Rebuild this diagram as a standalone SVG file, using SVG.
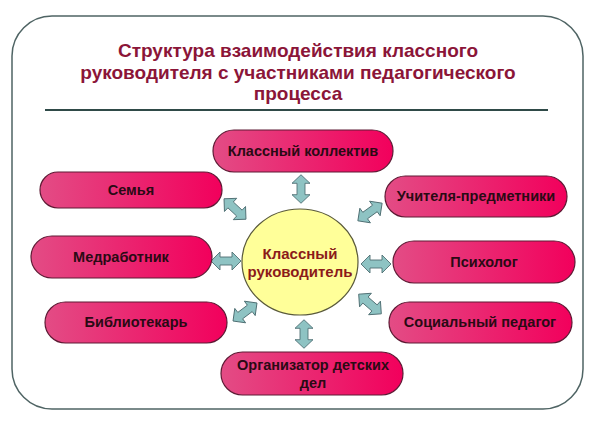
<svg xmlns="http://www.w3.org/2000/svg" xmlns:xlink="http://www.w3.org/1999/xlink" width="592" height="444" viewBox="0 0 592 444">
<style>
.title{font-family:"Liberation Sans",Arial,sans-serif;font-weight:bold;font-size:19px;fill:#8B1538;text-anchor:middle}
.node rect{fill:url(#pink);stroke:#5E1A34;stroke-width:1.2}
.node text{font-family:"Liberation Sans",Arial,sans-serif;font-weight:bold;font-size:14.5px;fill:#2A0A14;text-anchor:middle}
.center text{font-family:"Liberation Sans",Arial,sans-serif;font-weight:bold;font-size:15px;fill:#8B1A1A;text-anchor:middle}
.arr{fill:#8EC3C3;stroke:#4E6E72;stroke-width:0.9}
</style>
<defs>
<linearGradient id="pink" x1="0" y1="0" x2="1" y2="0">
<stop offset="0" stop-color="#E34C85"/>
<stop offset="1" stop-color="#F2005C"/>
</linearGradient>
<path id="dbl" d="M-15,0 L-6,-9 L-6,-4 L6,-4 L6,-9 L15,0 L6,9 L6,4 L-6,4 L-6,9 Z"/>
</defs>
<rect width="592" height="444" fill="#FFFFFF"/>
<rect x="12" y="16" width="571" height="393" rx="40" ry="40" fill="#FFFFFF" stroke="#4F6464" stroke-width="1.5"/>
<g id="title">
<text class="title" x="298" y="57">Структура взаимодействия классного</text>
<text class="title" x="298" y="78.5">руководителя с участниками педагогического</text>
<text class="title" x="298" y="100">процесса</text>
<line x1="45" y1="110" x2="548" y2="110" stroke="#2F4A48" stroke-width="2"/>
</g>
<g id="connectors">
<use xlink:href="#dbl" class="arr" transform="translate(301,189) rotate(90) scale(0.95,1)"/>
<use xlink:href="#dbl" class="arr" transform="translate(304,334) rotate(90) scale(0.95,1)"/>
<use xlink:href="#dbl" class="arr" transform="translate(226,261)"/>
<use xlink:href="#dbl" class="arr" transform="translate(376,264)"/>
<use xlink:href="#dbl" class="arr" transform="translate(235,209) rotate(43)"/>
<use xlink:href="#dbl" class="arr" transform="translate(370,212) rotate(-36)"/>
<use xlink:href="#dbl" class="arr" transform="translate(245,312) rotate(-37)"/>
<use xlink:href="#dbl" class="arr" transform="translate(370,304) rotate(41)"/>
</g>
<g id="n-kollektiv" class="node">
<rect x="213" y="130" width="180" height="42" rx="21"/>
<text x="303" y="156">Классный коллектив</text>
</g>
<g id="n-semya" class="node">
<rect x="40" y="172" width="182" height="36" rx="18"/>
<text x="131" y="195">Семья</text>
</g>
<g id="n-medrabotnik" class="node">
<rect x="31" y="236" width="181" height="42" rx="21"/>
<text x="121" y="262">Медработник</text>
</g>
<g id="n-bibliotekar" class="node">
<rect x="45" y="302" width="182" height="41" rx="20.5"/>
<text x="136" y="327">Библиотекарь</text>
</g>
<g id="n-uchitelya" class="node">
<rect x="385" y="176" width="182" height="41" rx="20.5"/>
<text x="476" y="201">Учителя-предметники</text>
</g>
<g id="n-psiholog" class="node">
<rect x="393" y="241" width="182" height="42" rx="21"/>
<text x="484" y="267">Психолог</text>
</g>
<g id="n-socped" class="node">
<rect x="389" y="302" width="183" height="41" rx="20.5"/>
<text x="480" y="327">Социальный педагог</text>
</g>
<g id="n-organizator" class="node">
<rect x="221" y="352" width="182" height="43" rx="21.5"/>
<text x="313" y="370">Организатор детских</text>
<text x="313" y="388">дел</text>
</g>
<g id="center" class="center">
<ellipse cx="300" cy="262" rx="58" ry="53" fill="#FFFF99" stroke="#5A5A3A" stroke-width="1.2"/>
<text x="300" y="259">Классный</text>
<text x="300" y="277">руководитель</text>
</g>
</svg>
